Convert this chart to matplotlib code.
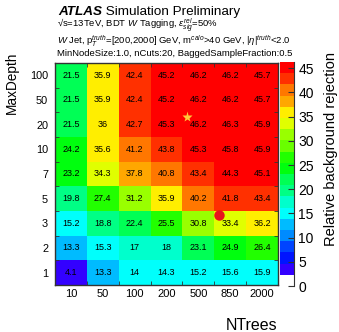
import colorsys
import numpy as np
import matplotlib
matplotlib.use('Agg')
import matplotlib.pyplot as plt
from matplotlib.colors import ListedColormap, BoundaryNorm

ntrees = ['10', '50', '100', '200', '500', '850', '2000']
maxdepth = ['1', '2', '3', '5', '7', '10', '20', '50', '100']

# rows = MaxDepth (bottom to top), columns = NTrees
rejection = np.array([
    [4.1, 13.3, 14.0, 14.3, 15.2, 15.6, 15.9],
    [13.3, 15.3, 17.0, 18.0, 23.1, 24.9, 26.4],
    [15.2, 18.8, 22.4, 25.5, 30.8, 33.4, 36.2],
    [19.8, 27.4, 31.2, 35.9, 40.2, 41.8, 43.4],
    [23.2, 34.3, 37.8, 40.8, 43.4, 44.3, 45.1],
    [24.2, 35.6, 41.2, 43.8, 45.3, 45.8, 45.9],
    [21.5, 36.0, 42.7, 45.3, 46.2, 46.3, 45.9],
    [21.5, 35.9, 42.4, 45.2, 46.2, 46.2, 45.7],
    [21.5, 35.9, 42.4, 45.2, 46.2, 46.2, 45.7],
])

# marker positions in bin units (column, row)
star_pos = (3.64, 6.31)
dot_pos = (4.66, 2.34)

zmax = 46.3
ncont = 20

plt.rcParams['font.family'] = ['Liberation Sans', 'DejaVu Sans']
plt.rcParams['mathtext.fontset'] = 'custom'
plt.rcParams['mathtext.rm'] = 'Liberation Sans'
plt.rcParams['mathtext.it'] = 'Liberation Sans:italic'
plt.rcParams['mathtext.bf'] = 'Liberation Sans:bold'

# ROOT "pretty" palette: 50 HLS colours violet -> red, 20 contour levels
pretty = [colorsys.hls_to_rgb((280 - (i + 1) * 280 / 50) / 360, 0.5, 1.0) for i in range(50)]
level_colors = [pretty[int((k + 0.99) * 50 / ncont)] for k in range(ncont)]
cmap = ListedColormap(level_colors)
bounds = np.linspace(0, zmax, ncont + 1)
norm = BoundaryNorm(bounds, cmap.N)

W, H = 339, 332
fig = plt.figure(figsize=(W / 100, H / 100), dpi=100)
ax = fig.add_axes([55 / W, 1 - 285 / H, 223 / W, 222 / H])

nx, ny = len(ntrees), len(maxdepth)
ax.pcolormesh(np.arange(nx + 1) - 0.5, np.arange(ny + 1) - 0.5, rejection, cmap=cmap, norm=norm)
for i in range(ny):
    for j in range(nx):
        ax.text(j, i, f'{rejection[i, j]:.3g}', ha='center', va='center', fontsize=6.5)

ax.plot(*star_pos, marker='*', color='#ffc83a', ms=8, mec='none')
ax.plot(*dot_pos, marker='o', color='#e8141c', ms=7.5, mec='none')

ax.set_xlim(-0.5, nx - 0.5)
ax.set_ylim(-0.5, ny - 0.5)
ax.set_xticks(range(nx), ntrees, fontsize=8)
ax.set_yticks(range(ny), maxdepth, fontsize=7.8)
ax.set_xticks(np.arange(nx + 1) - 0.5, minor=True)
ax.set_yticks(np.arange(ny + 1) - 0.5, minor=True)
ax.tick_params(which='major', length=0)
ax.tick_params(axis='x', which='major', pad=3)
ax.tick_params(axis='y', which='major', pad=5)
ax.tick_params(which='minor', direction='in', length=3, top=True, right=True, color='#333333')
for s in ax.spines.values():
    s.set_color('#333333')
    s.set_linewidth(1.0)

# palette axis
cax = fig.add_axes([280 / W, 1 - 286 / H, 14 / W, 224 / H])
mids = (bounds[1:-1] + bounds[2:]) / 2
cax.pcolormesh([0, 1], bounds[1:], mids[:, None], cmap=cmap, norm=norm)
cax.set_xlim(0, 1)
cax.set_ylim(0, zmax)
for k in ['left', 'top', 'bottom']:
    cax.spines[k].set_visible(False)
cax.spines['right'].set_color('#333333')
cax.set_xticks([])
cax.yaxis.tick_right()
cax.set_yticks(range(0, 46, 5))
cax.tick_params(axis='y', direction='in', length=4, labelsize=10, pad=3, color='#333333')

fig.text(12 / W, 1 - 52 / H, 'MaxDepth', rotation=90, ha='center', va='top', fontsize=9.8)
fig.text(277 / W, 1 - 325 / H, 'NTrees', ha='right', va='center', fontsize=11.5)
fig.text(331 / W, 1 - 52 / H, 'Relative background rejection', rotation=90,
         ha='center', va='top', fontsize=10.5)

t1 = fig.text(58 / W, 1 - 12 / H, 'ATLAS', fontweight='bold', style='italic',
              fontsize=9.7, va='center')
ax.annotate(' Simulation Preliminary', xy=(1, 0), xycoords=t1, va='bottom', ha='left',
            fontsize=9.7, annotation_clip=False)
fig.text(57 / W, 1 - 25.5 / H, '\u221as=13TeV, BDT $W$ Tagging, $\\epsilon^{rel}_{sig}$=50%',
         fontsize=6.8, va='center')
fig.text(57 / W, 1 - 41.5 / H,
         r'$W$ Jet, p$_{T}^{truth}$=[200,2000] GeV, m$^{calo}$>40 GeV, |$\eta$|$^{truth}$<2.0',
         fontsize=6.8, va='center')
fig.text(57 / W, 1 - 54 / H, 'MinNodeSize:1.0, nCuts:20, BaggedSampleFraction:0.5',
         fontsize=6.8, va='center')

fig.savefig('out.png', dpi=100)
